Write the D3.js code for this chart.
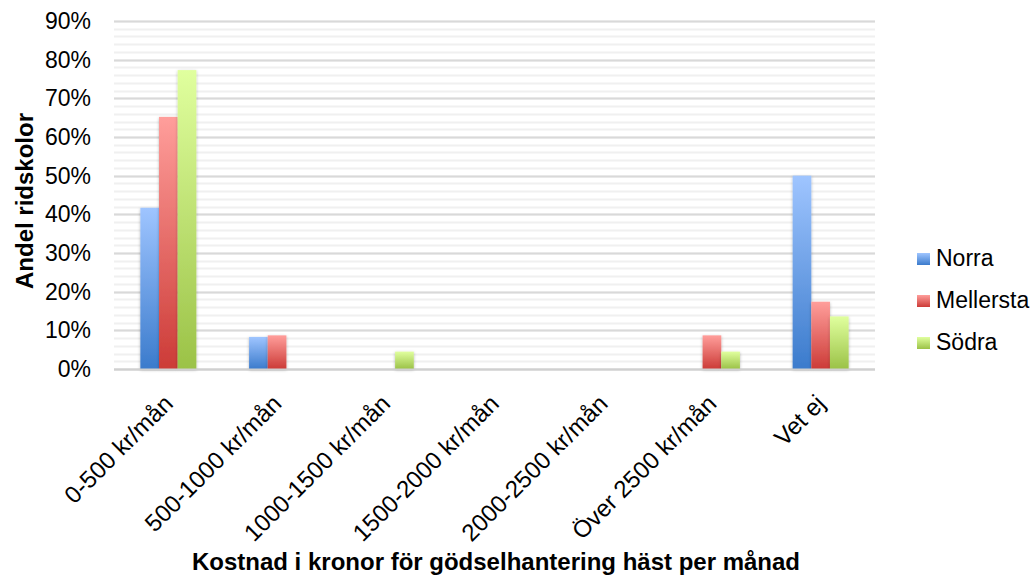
<!DOCTYPE html>
<html>
<head>
<meta charset="utf-8">
<script src="https://cdn.jsdelivr.net/npm/d3@7"></script>
<style>
  body { margin: 0; background: #fff; }
  svg { font-family: "Liberation Sans", Arial, sans-serif; }
</style>
</head>
<body>
<svg id="chart" width="1036" height="578"></svg>
<script>
// Kostnad för gödselhantering per häst och månad, andel ridskolor per region
const categories = ["0-500 kr/mån", "500-1000 kr/mån", "1000-1500 kr/mån", "1500-2000 kr/mån",
                    "2000-2500 kr/mån", "Över 2500 kr/mån", "Vet ej"];
const seriesNames = ["Norra", "Mellersta", "Södra"];
const norra     = [0.417, 0.083, 0,     0, 0, 0,     0.500];
const mellersta = [0.652, 0.087, 0,     0, 0, 0.087, 0.174];
const sodra     = [0.773, 0,     0.045, 0, 0, 0.045, 0.136];
const yTicks = [0, 0.1, 0.2, 0.3, 0.4, 0.5, 0.6, 0.7, 0.8, 0.9];
const minorTicks = d3.range(0, 0.9001, 0.02);

const seriesValues = [norra, mellersta, sodra];
const colors = [
  { top: "#9fc5ff", bottom: "#3b7bcc" },
  { top: "#ff9e9b", bottom: "#cc3b37" },
  { top: "#e0ff9e", bottom: "#9bc247" }
];

const svg = d3.select("#chart");
const margin = { left: 114, right: 161, top: 21, bottom: 208 };
const W = 1036, H = 578;

const x = d3.scaleBand().domain(categories).range([margin.left, W - margin.right]).paddingInner(0.485).paddingOuter(0.2425);
const xs = d3.scaleBand().domain(seriesNames).range([0, x.bandwidth()]);
const y = d3.scaleLinear().domain([0, 0.9]).range([H - margin.bottom - 1, margin.top]);

const defs = svg.append("defs");
colors.forEach((c, i) => {
  const g = defs.append("linearGradient").attr("id", "grad" + i)
    .attr("x1", 0).attr("y1", 0).attr("x2", 0).attr("y2", 1);
  g.append("stop").attr("offset", "0%").attr("stop-color", c.top);
  g.append("stop").attr("offset", "100%").attr("stop-color", c.bottom);
});
const shadow = defs.append("filter").attr("id", "shadow")
  .attr("x", "-30%").attr("y", "-10%").attr("width", "160%").attr("height", "130%");
shadow.append("feDropShadow").attr("dx", 0).attr("dy", 1).attr("stdDeviation", 1.6)
  .attr("flood-color", "#000").attr("flood-opacity", 0.28);

// minor gridlines
svg.append("g").selectAll("line").data(minorTicks).join("line")
  .attr("x1", margin.left).attr("x2", W - margin.right)
  .attr("y1", d => Math.round(y(d)) + 0.5).attr("y2", d => Math.round(y(d)) + 0.5)
  .attr("stroke", "#f0f0f0").attr("stroke-width", 2);

// major gridlines
svg.append("g").selectAll("line").data(yTicks).join("line")
  .attr("x1", margin.left).attr("x2", W - margin.right)
  .attr("y1", d => Math.round(y(d)) + 0.5).attr("y2", d => Math.round(y(d)) + 0.5)
  .attr("stroke", "#d9d9d9").attr("stroke-width", 2);

// y axis labels
const yAxis = d3.axisLeft(y).tickValues(yTicks).tickFormat(d3.format(".0%")).tickSize(0).tickPadding(0);
const yg = svg.append("g").attr("transform", `translate(${margin.left - 23},0)`).call(yAxis);
yg.select(".domain").remove();
yg.selectAll("text").attr("font-size", 23).attr("fill", "#000")
  .attr("font-family", "Liberation Sans, Arial, sans-serif");

// bars
const groups = svg.append("g").selectAll("g").data(seriesValues).join("g")
  .attr("fill", (d, i) => `url(#grad${i})`).attr("filter", "url(#shadow)");
groups.each(function (vals, si) {
  d3.select(this).selectAll("rect")
    .data(categories.map((c, ci) => ({ c, v: vals[ci] })).filter(d => d.v > 0))
    .join("rect")
    .attr("x", d => x(d.c) + xs(seriesNames[si]))
    .attr("width", xs.bandwidth())
    .attr("y", d => y(d.v))
    .attr("height", d => y(0) - y(d.v));
});

// baseline
svg.append("line")
  .attr("x1", margin.left).attr("x2", W - margin.right)
  .attr("y1", Math.round(y(0)) + 0.5).attr("y2", Math.round(y(0)) + 0.5)
  .attr("stroke", "#d0d0d0").attr("stroke-width", 2);

// x axis labels
const xAxis = d3.axisBottom(x).tickSize(0).tickPadding(0);
const xg = svg.append("g").attr("transform", `translate(0,${y(0)})`).call(xAxis);
xg.select(".domain").remove();
xg.selectAll("text")
  .attr("font-size", 24).attr("fill", "#000")
  .attr("font-family", "Liberation Sans, Arial, sans-serif")
  .attr("text-anchor", "end")
  .attr("dy", null).attr("y", 0)
  .attr("transform", "translate(6,36) rotate(-45)");

// axis titles
svg.append("text")
  .attr("transform", `translate(33,${(y(0) + y(0.9)) / 2 + 6}) rotate(-90)`)
  .attr("text-anchor", "middle").attr("font-size", 24).attr("font-weight", "bold")
  .text("Andel ridskolor");
svg.append("text")
  .attr("x", 496).attr("y", 570)
  .attr("text-anchor", "middle").attr("font-size", 24).attr("font-weight", "bold")
  .text("Kostnad i kronor för gödselhantering häst per månad");

// legend
const legend = svg.append("g").selectAll("g").data(seriesNames).join("g")
  .attr("transform", (d, i) => `translate(917,${253 + i * 42})`);
legend.append("rect").attr("width", 13).attr("height", 12)
  .attr("fill", (d, i) => `url(#grad${i})`);
legend.append("text").attr("x", 19).attr("y", 13)
  .attr("font-size", 23).text(d => d);
</script>
</body>
</html>
